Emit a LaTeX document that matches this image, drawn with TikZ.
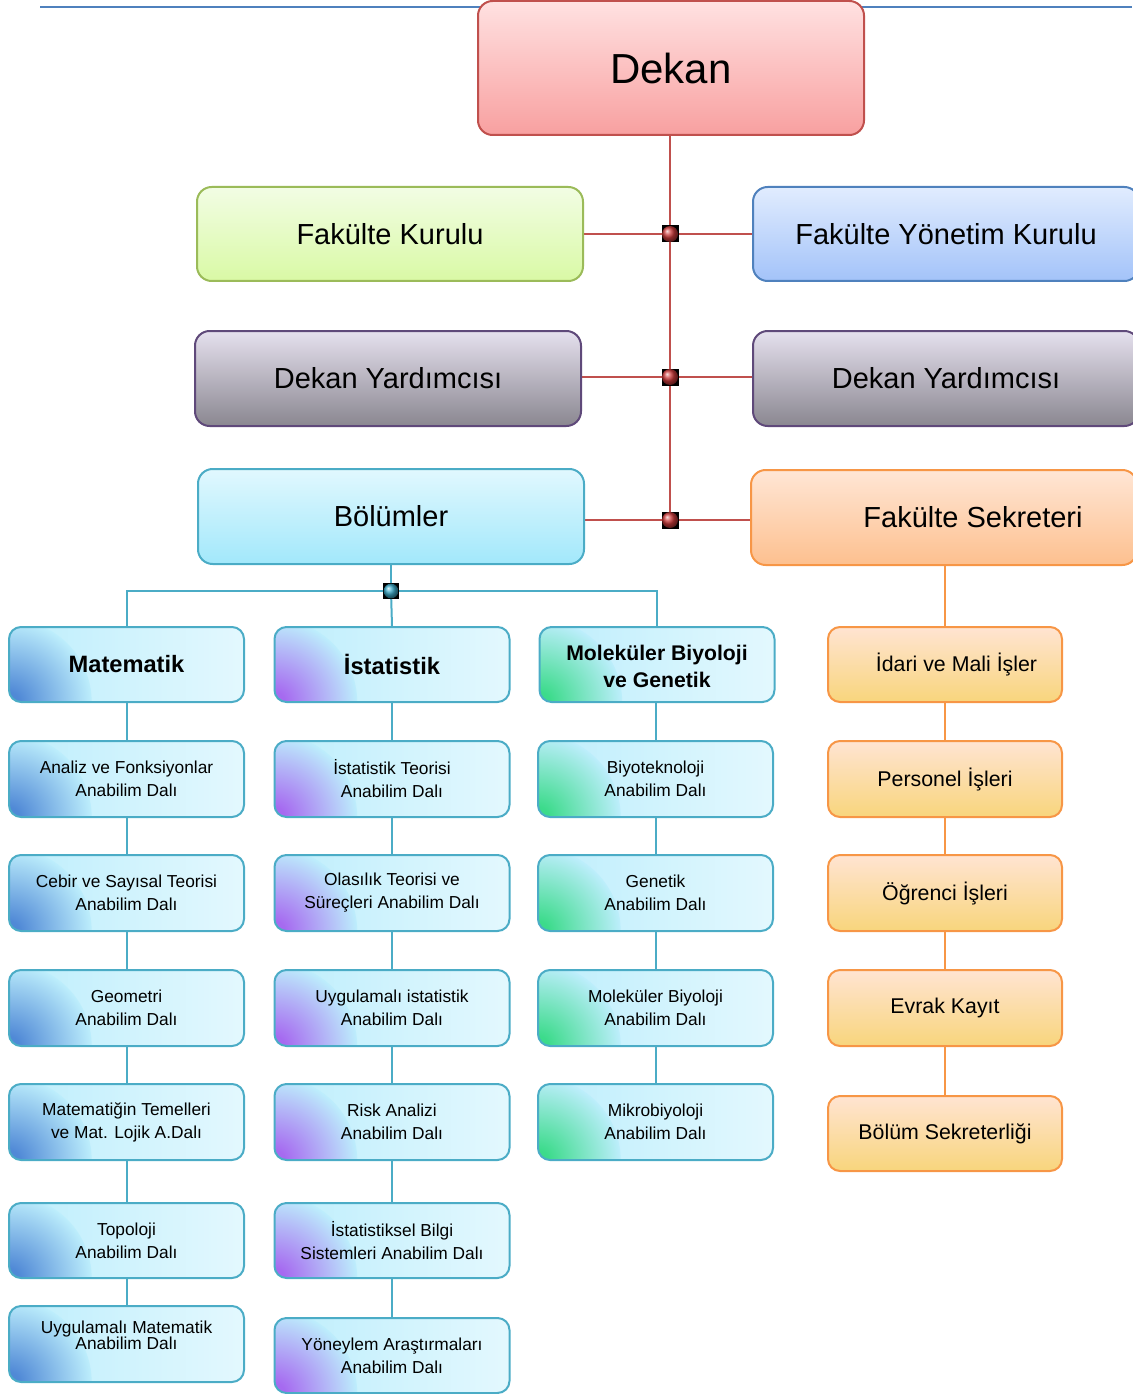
\documentclass[tikz,border=0pt]{standalone}
\usepackage{fontspec}
\setmainfont{Liberation Sans}
\usetikzlibrary{backgrounds,shadings}
\definecolor{topline}{HTML}{4F81BD}
\definecolor{redl}{HTML}{C0504D}
\definecolor{cyanb}{HTML}{4BACC6}
\definecolor{orb}{HTML}{F79646}
\definecolor{greenb}{HTML}{9BBB59}
\definecolor{blueb}{HTML}{4F81BD}
\definecolor{purpb}{HTML}{5F497A}
\definecolor{matdark}{HTML}{5089D6}
\definecolor{istdark}{HTML}{A66AF0}
\definecolor{moldark}{HTML}{3CDB8B}
\definecolor{cyanA}{HTML}{BDEEFC}
\definecolor{cyanB}{HTML}{E3F8FE}
\definecolor{orT}{HTML}{FFE4D2}
\definecolor{orM}{HTML}{FDCFA6}
\definecolor{orB}{HTML}{F8D57C}
\pgfdeclareradialshading{matsh}{\pgfpoint{0bp}{0bp}}{color(0bp)=(matdark); color(3bp)=(matdark); color(25bp)=(cyanA); color(50bp)=(cyanA)}
\pgfdeclareradialshading{istsh}{\pgfpoint{0bp}{0bp}}{color(0bp)=(istdark); color(3bp)=(istdark); color(25bp)=(cyanA); color(50bp)=(cyanA)}
\pgfdeclareradialshading{molsh}{\pgfpoint{0bp}{0bp}}{color(0bp)=(moldark); color(3bp)=(moldark); color(25bp)=(cyanA); color(50bp)=(cyanA)}
\tikzset{
  bigbox/.style={rectangle, rounded corners=11pt, line width=1.5pt, minimum width=386*0.75pt,
    minimum height=94*0.75pt, inner sep=0pt, align=center, font=\fontsize{21.75}{26}\selectfont},
  deptbox/.style={rectangle, rounded corners=9pt, draw=cyanb, line width=1.5pt, minimum width=235*0.75pt,
    minimum height=76*0.75pt, inner sep=0pt, align=center, font=\fontsize{13}{17.25}\selectfont,
    path picture={\shade[sharp corners, left color=cyanA, right color=cyanB]
      (path picture bounding box.south west) rectangle (path picture bounding box.north east);
      \shade[shading=#1] (path picture bounding box.south west) circle (62pt);}},
  headfont/.style={font=\fontsize{17.75}{21}\selectfont\bfseries},
  orbox/.style={rectangle, rounded corners=9pt, draw=orb, line width=1.5pt, minimum width=234*0.75pt,
    minimum height=76*0.75pt, inner sep=0pt, align=center, font=\fontsize{16}{19}\selectfont,
    top color=orT, middle color=orM, bottom color=orB},
  redsq/.style={rectangle, fill=black, minimum size=17*0.75pt, inner sep=0pt},
  redball/.style={circle, inner sep=0pt, minimum size=12pt, ball color={rgb,255:red,205;green,60;blue,60}},
  cyansq/.style={rectangle, fill=black, minimum size=16*0.75pt, inner sep=0pt},
  cyanball/.style={circle, inner sep=0pt, minimum size=11pt, ball color={rgb,255:red,60;green,170;blue,200}},
  redline/.style={draw=redl, line width=1.5pt},
  cyanline/.style={draw=cyanb, line width=1.5pt},
  orline/.style={draw=orb, line width=1.5pt},
}
\begin{document}
\begin{tikzpicture}[x=0.75pt,y=-0.75pt]
\useasboundingbox (0,0) rectangle (1132,1394);
% top level
\node[bigbox, draw=redl, top color={rgb,255:red,255;green,225;blue,225}, bottom color={rgb,255:red,248;green,160;blue,160},
  minimum height=134*0.75pt, font=\fontsize{31.5}{36}\selectfont] (dekan) at (671,68) {Dekan};
\node[bigbox, draw=greenb, top color={rgb,255:red,242;green,253;blue,228}, bottom color={rgb,255:red,217;green,249;blue,165}] (fk) at (390,234) {Fakülte Kurulu};
\node[bigbox, draw=blueb, top color={rgb,255:red,225;green,236;blue,254}, bottom color={rgb,255:red,163;green,195;blue,249}] (fyk) at (946,234) {Fakülte Yönetim Kurulu};
\node[bigbox, draw=purpb, top color={rgb,255:red,229;green,224;blue,238}, bottom color={rgb,255:red,138;green,135;blue,144}, minimum height=95*0.75pt] (dy1) at (388,378.5) {Dekan Yardımcısı};
\node[bigbox, draw=purpb, top color={rgb,255:red,229;green,224;blue,238}, bottom color={rgb,255:red,138;green,135;blue,144}, minimum height=95*0.75pt] (dy2) at (946,378.5) {Dekan Yardımcısı};
\node[bigbox, draw=cyanb, top color={rgb,255:red,225;green,248;blue,254}, bottom color={rgb,255:red,162;green,232;blue,251}, minimum height=95*0.75pt] (bol) at (391,516.5) {Bölümler};
\node[bigbox, draw=orb, top color={rgb,255:red,255;green,230;blue,213}, bottom color={rgb,255:red,253;green,192;blue,143}, minimum height=95*0.75pt] (fs) at (944,517.5) {\hspace*{43.5pt}Fakülte Sekreteri};
% departments
\node[deptbox=matsh, minimum height=75*0.75pt, headfont] (mat) at (126.5,664.5) {Matematik};
\node[deptbox=istsh, minimum height=75*0.75pt, headfont] (ist) at (392,664.5) {İstatistik};
\node[deptbox=molsh, minimum height=75*0.75pt, font=\fontsize{15.9}{20}\selectfont\bfseries] (mol) at (657,664.5) {\raisebox{-7.5pt}[0pt][0pt]{\begin{tabular}{@{}c@{}}Moleküler Biyoloji\\ve Genetik\end{tabular}}};
% column 1
\node[deptbox=matsh] (m1) at (126.5,779) {Analiz ve Fonksiyonlar\\Anabilim Dalı};
\node[deptbox=matsh] (m2) at (126.5,893) {Cebir ve Sayısal Teorisi\\Anabilim Dalı};
\node[deptbox=matsh] (m3) at (126.5,1008) {Geometri\\Anabilim Dalı};
\node[deptbox=matsh] (m4) at (126.5,1122) {Matematiğin Temelleri\\ve Mat. Lojik A.Dalı};
\node[deptbox=matsh, minimum height=75*0.75pt] (m5) at (126.5,1240.5) {Topoloji\\Anabilim Dalı};
\node[deptbox=matsh] (m6) at (126.5,1344) {\raisebox{2.4pt}[0pt][0pt]{\begin{tabular}{@{}c@{}}Uygulamalı Matematik\\[-5pt]Anabilim Dalı\end{tabular}}};
% column 2
\node[deptbox=istsh] (i1) at (392,779) {İstatistik Teorisi\\Anabilim Dalı};
\node[deptbox=istsh] (i2) at (392,893) {Olasılık Teorisi ve\\Süreçleri Anabilim Dalı};
\node[deptbox=istsh] (i3) at (392,1008) {Uygulamalı istatistik\\Anabilim Dalı};
\node[deptbox=istsh] (i4) at (392,1122) {Risk Analizi\\Anabilim Dalı};
\node[deptbox=istsh, minimum height=75*0.75pt] (i5) at (392,1240.5) {İstatistiksel Bilgi\\Sistemleri Anabilim Dalı};
\node[deptbox=istsh, minimum height=75*0.75pt] (i6) at (392,1355.5) {Yöneylem Araştırmaları\\Anabilim Dalı};
% column 3
\node[deptbox=molsh] (b1) at (655.5,779) {Biyoteknoloji\\Anabilim Dalı};
\node[deptbox=molsh] (b2) at (655.5,893) {Genetik\\Anabilim Dalı};
\node[deptbox=molsh] (b3) at (655.5,1008) {Moleküler Biyoloji\\Anabilim Dalı};
\node[deptbox=molsh] (b4) at (655.5,1122) {Mikrobiyoloji\\Anabilim Dalı};
% orange column
\node[orbox, minimum height=75*0.75pt] (o1) at (945,664.5) {\hspace*{17.25pt}İdari ve Mali İşler};
\node[orbox] (o2) at (945,779) {Personel İşleri};
\node[orbox] (o3) at (945,893) {Öğrenci İşleri};
\node[orbox] (o4) at (945,1008) {Evrak Kayıt};
\node[orbox, minimum height=75*0.75pt] (o5) at (945,1133.5) {Bölüm Sekreterliği};
% junctions
\coordinate (j1) at (670,234);
\coordinate (j2) at (670,377);
\coordinate (j3) at (670,520);
\coordinate (bj) at (391,591);
\coordinate (tl1) at (40,7);
\coordinate (tl2) at (1132,7);
\begin{pgfonlayer}{background}
\draw[topline, line width=1.5pt] (tl1) -- (tl2);
\draw[redline] (dekan.south -| j1) -- (j3);
\draw[redline] (fk.east |- j1) -- (fyk.west |- j1);
\draw[redline] (dy1.east |- j2) -- (dy2.west |- j2);
\draw[redline] (bol.east |- j3) -- (fs.west |- j3);
\draw[cyanline] (bol.south -| bj) -- (bj);
\draw[cyanline] (mat.north) |- (bj) -| (mol.north);
\draw[cyanline] (bj) -- (ist.north);
\draw[cyanline] (mat.south) -- (m1.north);
\draw[cyanline] (m1.south) -- (m2.north);
\draw[cyanline] (m2.south) -- (m3.north);
\draw[cyanline] (m3.south) -- (m4.north);
\draw[cyanline] (m4.south) -- (m5.north);
\draw[cyanline] (m5.south) -- (m6.north);
\draw[cyanline] (ist.south) -- (i1.north);
\draw[cyanline] (i1.south) -- (i2.north);
\draw[cyanline] (i2.south) -- (i3.north);
\draw[cyanline] (i3.south) -- (i4.north);
\draw[cyanline] (i4.south) -- (i5.north);
\draw[cyanline] (i5.south) -- (i6.north);
\draw[cyanline] (mol.south -| b1) -- (b1.north);
\draw[cyanline] (b1.south) -- (b2.north);
\draw[cyanline] (b2.south) -- (b3.north);
\draw[cyanline] (b3.south) -- (b4.north);
\draw[orline] (fs.south -| o1) -- (o1.north);
\draw[orline] (o1.south) -- (o2.north);
\draw[orline] (o2.south) -- (o3.north);
\draw[orline] (o3.south) -- (o4.north);
\draw[orline] (o4.south) -- (o5.north);
\end{pgfonlayer}
% junction markers
\node[redsq] (s1) at (j1) {};
\node[redball] (r1) at (j1) {};
\node[redsq] (s2) at (j2) {};
\node[redball] (r2) at (j2) {};
\node[redsq] (s3) at (j3) {};
\node[redball] (r3) at (j3) {};
\node[cyansq] (s4) at (bj) {};
\node[cyanball] (r4) at (bj) {};
\end{tikzpicture}
\end{document}
